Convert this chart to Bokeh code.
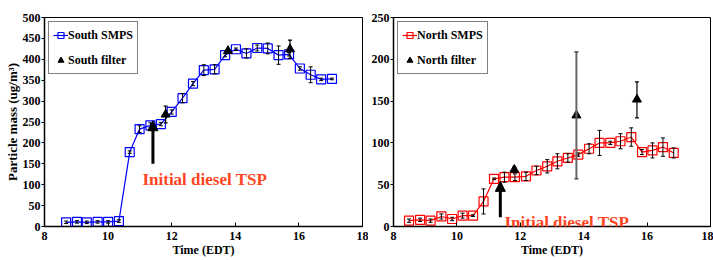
import math
from bokeh.plotting import figure
from bokeh.layouts import row
from bokeh.models import ColumnDataSource, Whisker, TeeHead, Arrow, NormalHead, Label, Legend, LegendItem
from bokeh.embed import file_html
from bokeh.resources import INLINE

# ---------------- data ----------------
south_time = [8.68, 9.02, 9.33, 9.67, 10.0, 10.34, 10.68, 10.99, 11.33, 11.66, 12.0, 12.34, 12.67,
              13.01, 13.35, 13.68, 14.02, 14.35, 14.69, 15.02, 15.36, 15.69, 16.03, 16.37, 16.7, 17.04]
south_smps = [10, 11, 10, 11, 11, 13, 178, 233, 242, 245, 274, 307, 342,
              374, 376, 410, 424, 414, 427, 426, 410, 412, 378, 363, 352, 353]
south_smps_err = [3, 3, 3, 3, 3, 3, 3, 8, 6, 4, 5, 11, 5,
                  13, 11, 4, 3, 11, 7, 13, 22, 4, 4, 19, 3, 2]
south_filter_time = [11.81, 13.77, 15.72]
south_filter = [268, 420, 424]
south_filter_err = [20, 2, 22]

north_time = [8.49, 8.84, 9.17, 9.51, 9.85, 10.18, 10.51, 10.84, 11.17, 11.5, 11.83, 12.18, 12.51,
              12.85, 13.17, 13.5, 13.83, 14.17, 14.5, 14.84, 15.16, 15.5, 15.84, 16.17, 16.5, 16.84]
north_smps = [7, 8, 7, 12, 9, 13, 13, 30, 57, 59, 59, 60, 67,
              72, 78, 82, 86, 93, 100, 100, 102, 107, 89, 91, 95, 88]
north_smps_err = [2, 2, 2, 3, 2, 3, 1, 15, 1, 6, 4, 5, 5,
                  8, 9, 5, 2, 6, 15, 2, 9, 11, 3, 9, 11, 6]
north_filter_time = [11.81, 13.77, 15.68]
north_filter = [68, 133, 152]
north_filter_lo = [65, 57, 130]
north_filter_hi = [71, 209, 173]

x_ticks = [8, 10, 12, 14, 16, 18]
south_y_ticks = [0, 50, 100, 150, 200, 250, 300, 350, 400, 450, 500]
north_y_ticks = [0, 50, 100, 150, 200, 250]

x_title = "Time (EDT)"
y_title = "Particle mass (ug/m\u00b3)"

# annotation positions (data units)
south_arrow = dict(x=11.41, y0=150, y1=253)
north_arrow = dict(x=11.37, y0=11, y1=54)
south_note = dict(x=11.08, y=112)
north_note = dict(x=11.5, y=4.5)

FONT = "Liberation Serif"
NOTE_COLOR = "#FF4422"


def style(p, yticks):
    p.xgrid.visible = False
    p.ygrid.visible = False
    p.outline_line_color = "black"
    p.outline_line_width = 1
    p.background_fill_color = "white"
    p.border_fill_color = "white"
    p.xaxis.ticker = x_ticks
    p.yaxis.ticker = yticks
    for ax in (p.xaxis[0], p.yaxis[0]):
        ax.axis_line_color = "black"
        ax.axis_line_width = 1.5
        ax.major_tick_line_color = "black"
        ax.minor_tick_line_color = None
        ax.major_label_text_font = FONT
        ax.major_label_text_font_style = "bold"
        ax.major_label_text_font_size = "12px"
        ax.major_label_text_color = "black"
        ax.axis_label_text_font = FONT
        ax.axis_label_text_font_style = "bold"
        ax.axis_label_text_color = "black"
        ax.axis_label_standoff = 0
    p.xaxis.axis_label = x_title
    p.xaxis.axis_label_text_font_size = "12px"
    p.xaxis.major_tick_in = 4
    p.xaxis.major_tick_out = 0
    p.xaxis.major_label_standoff = 5
    p.yaxis.major_tick_in = 0
    p.yaxis.major_tick_out = 3
    p.yaxis.major_label_standoff = 1


def panel(p, t, v, e, ft, fv, flo, fhi, color, name, arrow, note, big_err_idx=None):
    line_r = p.line(t, v, line_color=color, line_width=1.2)
    sq_r = p.scatter(t, v, marker="square", size=9, line_color=color, line_width=1.2, fill_color=None)
    src = ColumnDataSource(dict(x=t, lo=[a - b for a, b in zip(v, e)], hi=[a + b for a, b in zip(v, e)]))
    p.add_layout(Whisker(source=src, base="x", lower="lo", upper="hi", line_color="black", line_width=1,
                         lower_head=TeeHead(size=4, line_color="black", line_width=1),
                         upper_head=TeeHead(size=4, line_color="black", line_width=1), level="glyph"))
    tri_r = p.scatter(ft, fv, marker="triangle", size=9, fill_color="black", line_color="black")
    idx_normal = [i for i in range(len(ft)) if i != big_err_idx]
    fsrc = ColumnDataSource(dict(x=[ft[i] for i in idx_normal], lo=[flo[i] for i in idx_normal],
                                 hi=[fhi[i] for i in idx_normal]))
    p.add_layout(Whisker(source=fsrc, base="x", lower="lo", upper="hi", line_color="black", line_width=1.2,
                         lower_head=TeeHead(size=4, line_color="black", line_width=1.2),
                         upper_head=TeeHead(size=4, line_color="black", line_width=1.2), level="glyph"))
    if big_err_idx is not None:
        bsrc = ColumnDataSource(dict(x=[ft[big_err_idx]], lo=[flo[big_err_idx]], hi=[fhi[big_err_idx]]))
        p.add_layout(Whisker(source=bsrc, base="x", lower="lo", upper="hi", line_color="#666666", line_width=2,
                             lower_head=TeeHead(size=4, line_color="#333333", line_width=1.2),
                             upper_head=TeeHead(size=4, line_color="#333333", line_width=1.2), level="glyph"))
    legend = Legend(items=[LegendItem(label=f"{name} SMPS", renderers=[line_r, sq_r]),
                           LegendItem(label=f"{name} filter", renderers=[tri_r])],
                    location="top_left")
    legend.border_line_color = "black"
    legend.border_line_width = 1.5
    legend.background_fill_color = "white"
    legend.background_fill_alpha = 1
    legend.label_text_font = FONT
    legend.label_text_font_style = "bold"
    legend.label_text_font_size = "12px"
    legend.label_text_color = "black"
    legend.glyph_width = 15
    legend.glyph_height = 16
    legend.label_height = 18
    legend.label_standoff = 0
    legend.spacing = 7
    legend.padding = 4
    legend.margin = 4
    p.add_layout(legend)
    p.add_layout(Arrow(end=NormalHead(size=10, fill_color="black", line_color="black"),
                       x_start=arrow["x"], y_start=arrow["y0"], x_end=arrow["x"], y_end=arrow["y1"],
                       line_width=3, line_color="black"))
    p.add_layout(Label(x=note["x"], y=note["y"], text="Initial diesel TSP", text_color=NOTE_COLOR,
                       text_font=FONT, text_font_style="bold", text_font_size="17px",
                       text_baseline="alphabetic", text_align="left"))


common = dict(output_backend="svg", toolbar_location=None, height=260, min_border_top=17,
              min_border_bottom=34, title=None)

p1 = figure(width=368, x_range=(8, 18), y_range=(0, 500), min_border_left=44, min_border_right=6, **common)
style(p1, south_y_ticks)
p1.yaxis.axis_label = y_title
p1.yaxis.axis_label_text_font_size = "13px"
panel(p1, south_time, south_smps, south_smps_err, south_filter_time, south_filter,
      [a - b for a, b in zip(south_filter, south_filter_err)], [a + b for a, b in zip(south_filter, south_filter_err)],
      "#0000FF", "South", south_arrow, south_note)

p2 = figure(width=345, x_range=(8, 18), y_range=(0, 250), min_border_left=22, min_border_right=3, **common)
style(p2, north_y_ticks)
panel(p2, north_time, north_smps, north_smps_err, north_filter_time, north_filter,
      north_filter_lo, north_filter_hi, "#FF0000", "North", north_arrow, north_note, big_err_idx=1)

layout = row(p1, p2)
open("out.html", "w").write(file_html(layout, INLINE))
